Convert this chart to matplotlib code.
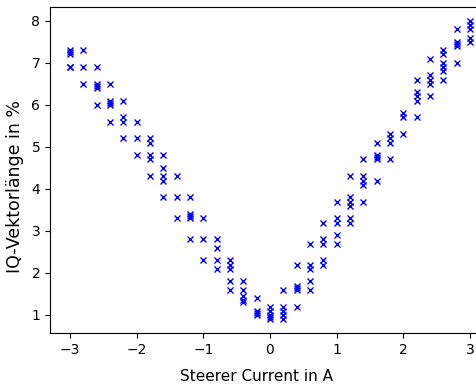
import matplotlib
matplotlib.use("Agg")
import matplotlib.pyplot as plt

# Steerer current settings (A) and the IQ vector lengths measured at each (%)
current = [
    -3.0, -3.0, -3.0, -3.0, -3.0,
    -2.8, -2.8, -2.8,
    -2.6, -2.6, -2.6, -2.6, -2.6,
    -2.4, -2.4, -2.4, -2.4, -2.4,
    -2.2, -2.2, -2.2, -2.2,
    -2.0, -2.0, -2.0,
    -1.8, -1.8, -1.8, -1.8, -1.8,
    -1.6, -1.6, -1.6, -1.6, -1.6,
    -1.4, -1.4, -1.4,
    -1.2, -1.2, -1.2, -1.2, -1.2,
    -1.0, -1.0, -1.0,
    -0.8, -0.8, -0.8, -0.8,
    -0.6, -0.6, -0.6, -0.6, -0.6,
    -0.4, -0.4, -0.4, -0.4, -0.4,
    -0.2, -0.2, -0.2, -0.2,
    0.0, 0.0, 0.0, 0.0, 0.0,
    0.2, 0.2, 0.2, 0.2, 0.2,
    0.4, 0.4, 0.4, 0.4, 0.4,
    0.6, 0.6, 0.6, 0.6, 0.6,
    0.8, 0.8, 0.8, 0.8, 0.8,
    1.0, 1.0, 1.0, 1.0, 1.0,
    1.2, 1.2, 1.2, 1.2, 1.2, 1.2,
    1.4, 1.4, 1.4, 1.4, 1.4,
    1.6, 1.6, 1.6, 1.6, 1.6,
    1.8, 1.8, 1.8, 1.8,
    2.0, 2.0, 2.0,
    2.2, 2.2, 2.2, 2.2, 2.2,
    2.4, 2.4, 2.4, 2.4, 2.4,
    2.6, 2.6, 2.6, 2.6, 2.6, 2.6,
    2.8, 2.8, 2.8, 2.8, 2.8,
    3.0, 3.0, 3.0, 3.0, 3.0,
]
iq_length = [
    7.3, 7.25, 7.2, 6.9, 6.9,
    7.3, 6.9, 6.5,
    6.9, 6.5, 6.45, 6.4, 6.0,
    6.5, 6.1, 6.05, 6.0, 5.6,
    6.1, 5.7, 5.6, 5.2,
    5.6, 5.2, 4.8,
    5.2, 5.1, 4.8, 4.7, 4.3,
    4.8, 4.5, 4.3, 4.2, 3.8,
    4.3, 3.8, 3.3,
    3.8, 3.4, 3.35, 3.3, 2.8,
    3.3, 2.8, 2.3,
    2.8, 2.6, 2.3, 2.1,
    2.3, 2.2, 2.1, 1.8, 1.6,
    1.8, 1.6, 1.45, 1.35, 1.3,
    1.4, 1.1, 1.05, 1.0,
    1.2, 1.1, 1.0, 0.95, 0.9,
    1.6, 1.2, 1.1, 1.0, 0.9,
    2.2, 1.7, 1.65, 1.6, 1.2,
    2.7, 2.2, 2.1, 1.8, 1.6,
    3.2, 2.8, 2.7, 2.3, 2.2,
    3.7, 3.3, 3.2, 2.9, 2.7,
    4.3, 3.8, 3.7, 3.6, 3.3, 3.2,
    4.7, 4.3, 4.2, 4.1, 3.7,
    5.1, 4.8, 4.75, 4.7, 4.2,
    5.3, 5.2, 5.1, 4.7,
    5.8, 5.7, 5.3,
    6.6, 6.3, 6.2, 6.1, 5.7,
    7.1, 6.7, 6.6, 6.5, 6.2,
    7.3, 7.2, 7.0, 6.9, 6.8, 6.6,
    7.8, 7.5, 7.45, 7.4, 7.0,
    8.0, 7.9, 7.8, 7.6, 7.5,
]

x_ticks = [-3, -2, -1, 0, 1, 2, 3]
y_ticks = [1, 2, 3, 4, 5, 6, 7, 8]

fig = plt.figure(figsize=(4.77, 3.87), dpi=100)
ax = fig.add_axes([50 / 477, 54 / 387, 440 / 477, 326 / 387])

ax.plot(current, iq_length, linestyle="none", marker="x", color="blue",
        markersize=5, markeredgewidth=1.0)

ax.set_xlim(-3.3, 3.3)
ax.set_ylim(0.57, 8.33)
ax.set_xticks(x_ticks)
ax.set_yticks(y_ticks)
ax.tick_params(labelsize=10)
ax.set_xlabel("Steerer Current in A", fontsize=11, labelpad=9, x=0.47)
ax.set_ylabel("IQ-Vektorlänge in %", fontsize=12.5, labelpad=5, y=0.45)

fig.savefig("out.png", dpi=100)
